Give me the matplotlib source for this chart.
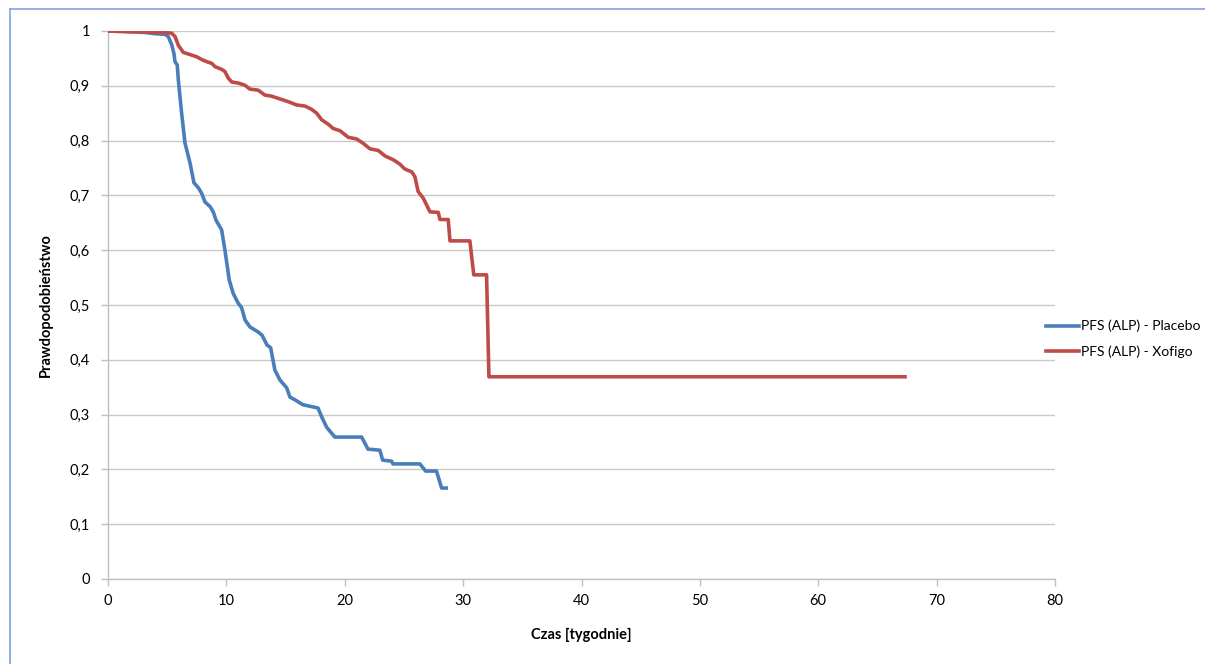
import matplotlib
matplotlib.use("Agg")
import matplotlib.pyplot as plt
from matplotlib.lines import Line2D
from matplotlib.ticker import FuncFormatter, MultipleLocator

plt.rcParams['font.family'] = ['Lato', 'DejaVu Sans']

# Kaplan-Meier PFS (ALP) estimates, time in weeks
placebo_t = [0, 2.70, 3.27, 3.97, 4.81, 5.09, 5.38, 5.57, 5.66, 5.85, 5.94, 6.22,
             6.50, 6.93, 7.26, 7.63, 7.91, 8.19, 8.61, 8.89, 9.12, 9.60, 9.88,
             10.24, 10.56, 10.98, 11.29, 11.57, 11.99, 12.67, 13.01, 13.43, 13.74,
             14.10, 14.53, 15.09, 15.37, 15.79, 16.47, 17.74, 18.05, 18.47, 18.89,
             19.17, 21.43, 21.96, 22.97, 23.20, 23.96, 24.07, 26.35, 26.83, 27.75,
             28.18, 28.72]
placebo_p = [1.0, 0.998, 0.997, 0.995, 0.994, 0.990, 0.975, 0.959, 0.944, 0.938,
             0.911, 0.850, 0.796, 0.759, 0.723, 0.714, 0.704, 0.688, 0.680, 0.670,
             0.655, 0.637, 0.600, 0.546, 0.522, 0.504, 0.495, 0.473, 0.460, 0.451,
             0.445, 0.427, 0.422, 0.381, 0.363, 0.349, 0.332, 0.327, 0.318, 0.312,
             0.296, 0.277, 0.266, 0.259, 0.259, 0.237, 0.235, 0.217, 0.215, 0.210,
             0.210, 0.197, 0.197, 0.166, 0.166]

xofigo_t = [0, 4.96, 5.38, 5.66, 5.94, 6.36, 6.93, 7.49, 7.91, 8.34, 8.76, 9.04,
            9.60, 9.88, 10.16, 10.45, 11.00, 11.57, 11.99, 12.69, 13.26, 13.83,
            14.53, 15.23, 15.94, 16.64, 17.20, 17.63, 18.05, 18.60, 19.03, 19.60,
            20.30, 21.00, 21.56, 22.13, 22.83, 23.40, 24.10, 24.66, 25.08, 25.65,
            25.93, 26.20, 26.63, 27.20, 27.90, 28.04, 28.74, 28.89, 30.57, 30.90,
            31.98, 32.18, 67.48]
xofigo_p = [1.0, 0.997, 0.996, 0.990, 0.974, 0.961, 0.957, 0.953, 0.948, 0.944,
            0.941, 0.935, 0.930, 0.926, 0.914, 0.907, 0.905, 0.901, 0.894, 0.892,
            0.883, 0.881, 0.876, 0.871, 0.865, 0.863, 0.857, 0.850, 0.838, 0.830,
            0.822, 0.818, 0.806, 0.803, 0.795, 0.785, 0.782, 0.772, 0.765, 0.757,
            0.748, 0.743, 0.734, 0.707, 0.695, 0.670, 0.669, 0.656, 0.656, 0.617,
            0.617, 0.555, 0.555, 0.369, 0.369]

series_labels = ['PFS (ALP) - Placebo', 'PFS (ALP) - Xofigo']
series_colors = ['#4a7ebb', '#be4b48']

W, H = 1205, 664
fig = plt.figure(figsize=(W / 100, H / 100), dpi=100)
ax = fig.add_axes([108 / W, 1 - 579 / H, (1055 - 108) / W, (579 - 31) / H])

grid_c = '#c8c8c8'
axis_c = '#bfbfbf'
ax.plot(placebo_t, placebo_p, color=series_colors[0], lw=2.6,
        solid_joinstyle='round', solid_capstyle='butt', zorder=3)
ax.plot(xofigo_t, xofigo_p, color=series_colors[1], lw=2.6,
        solid_joinstyle='round', solid_capstyle='butt', zorder=3)

ax.set_xlim(0, 80)
ax.set_ylim(0, 1)
ax.xaxis.set_major_locator(MultipleLocator(10))
ax.yaxis.set_major_locator(MultipleLocator(0.1))


def pl_fmt(v, _):
    s = f'{v:.1f}'.rstrip('0').rstrip('.')
    return s.replace('.', ',')


ax.yaxis.set_major_formatter(FuncFormatter(pl_fmt))
ax.xaxis.set_major_formatter(FuncFormatter(lambda v, _: f'{v:.0f}'))

ax.yaxis.grid(True, color=grid_c, lw=1.0)
ax.set_axisbelow(True)
for s in ('top', 'right'):
    ax.spines[s].set_visible(False)
for s in ('left', 'bottom'):
    ax.spines[s].set_color(axis_c)
    ax.spines[s].set_linewidth(1.0)
ax.tick_params(axis='both', direction='out', length=5, width=1.0, color=axis_c,
               labelsize=10.5, labelcolor='#000000')
ax.tick_params(axis='x', pad=6)
ax.tick_params(axis='y', pad=8)

ax.set_xlabel('Czas [tygodnie]', fontsize=10.5, fontweight='bold', labelpad=14)
ax.set_ylabel('Prawdopodobieństwo', fontsize=10.5, fontweight='bold', labelpad=12)

handles = [Line2D([], [], color=c, lw=2.6) for c in series_colors]
fig.legend(handles, series_labels, loc='center left',
           bbox_to_anchor=(1046 / W, 1 - 339 / H), frameon=False,
           borderpad=0, borderaxespad=0,
           fontsize=10, handlelength=2.4, handletextpad=0.15, labelspacing=0.95)

# outer chart frame
frame_c = '#7ea6dc'
fig.add_artist(Line2D([10 / W, 1.0], [1 - 9 / H, 1 - 9 / H], color=frame_c, lw=1.2))
fig.add_artist(Line2D([10 / W, 10 / W], [0, 1 - 9 / H], color=frame_c, lw=1.2))

fig.savefig('out.png', dpi=100, facecolor='white')
